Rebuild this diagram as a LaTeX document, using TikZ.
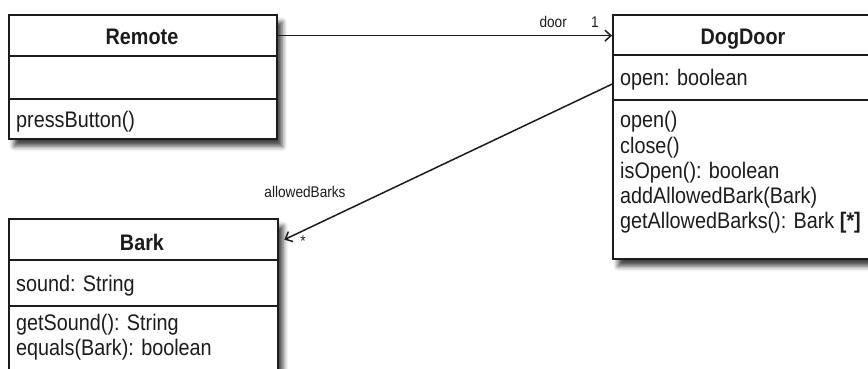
\documentclass[tikz,border=0pt]{standalone}
\usepackage{fontspec}
\setmainfont{Liberation Sans}[FakeStretch=0.88]
\usetikzlibrary{arrows.meta,shadows.blur,calc}
\definecolor{ink}{RGB}{30,27,28}
\tikzset{
  classbox/.style={draw=ink, line width=2.3pt, fill=white, rectangle, inner sep=0pt, anchor=north west,
    blur shadow={shadow xshift=5pt, shadow yshift=-7pt, shadow blur radius=5pt, shadow opacity=75}},
  compart/.style={draw=ink, line width=2.3pt, rectangle, inner sep=0pt, anchor=north west},
  clsname/.style={font=\fontsize{22.5}{25}\selectfont\bfseries, text=ink, inner sep=0pt, anchor=base},
  member/.style={font=\fontsize{22.5}{25}\selectfont, text=ink, inner sep=0pt, anchor=base west},
  lbl/.style={font=\fontsize{15.5}{18}\selectfont, text=ink, inner sep=0pt, anchor=base},
  assoc/.style={draw=ink, line width=1.5pt, -{Straight Barb[length=6pt,width=11pt]}}
}
\begin{document}
\begin{tikzpicture}[x=1pt,y=-1pt]
\useasboundingbox (0,0) rectangle (868,369);
\clip (0,0) rectangle (868,369);
% Remote
\node[classbox, minimum width=268pt, minimum height=124pt] (remote) at (8,14) {};
\node[compart, minimum width=268pt, minimum height=41pt] (remoteT) at (8,14) {};
\node[compart, minimum width=268pt, minimum height=43pt] (remoteA) at (8,55) {};
\node[clsname] (remoteN) at (142,45) {Remote};
\node[member] (pressButton) at (16,128) {pressButton()};
% DogDoor
\node[classbox, minimum width=262pt, minimum height=244pt] (dogdoor) at (612,14) {};
\node[compart, minimum width=262pt, minimum height=40pt] (ddT) at (612,14) {};
\node[compart, minimum width=262pt, minimum height=45pt] (ddA) at (612,54) {};
\node[clsname] (ddN) at (743,45) {DogDoor};
\node[member] (ddOpenAttr) at (620,85) {open: boolean};
\node[member] (ddOpen) at (620,128) {open()};
\node[member] (ddClose) at (620,153) {close()};
\node[member] (ddIsOpen) at (620,178) {isOpen(): boolean};
\node[member] (ddAdd) at (620,203) {addAllowedBark(Bark)};
\node[member] (ddGet) at (620,228) {getAllowedBarks(): Bark \textbf{[*]}};
% Bark
\node[classbox, minimum width=269pt, minimum height=200pt] (bark) at (8,218) {};
\node[compart, minimum width=269pt, minimum height=41pt] (barkT) at (8,218) {};
\node[compart, minimum width=269pt, minimum height=46pt] (barkA) at (8,259) {};
\node[clsname] (barkN) at (142,250) {Bark};
\node[member] (barkSound) at (16,291) {sound: String};
\node[member] (barkGet) at (16,330) {getSound(): String};
\node[member] (barkEq) at (16,355) {equals(Bark): boolean};
% associations
\draw[assoc] (remoteT.east) -- (remoteT.east -| ddT.west);
\draw[assoc] ([yshift=-6.5pt]ddA.west) -- ([xshift=5pt]barkT.east);
% labels
\node[lbl, anchor=base east] (doorL) at (567,28) {door};
\node[lbl, anchor=base west] (oneL) at (591,28) {1};
\node[lbl] (abL) at (305,197) {allowedBarks};
\node[lbl] (starL) at (303,246) {*};
\end{tikzpicture}
\end{document}
